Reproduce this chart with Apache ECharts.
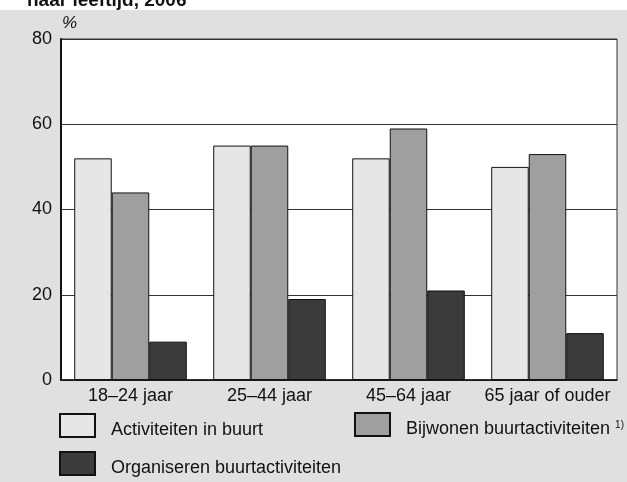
<!DOCTYPE html>
<html>
<head>
<meta charset="utf-8">
<script src="https://cdn.jsdelivr.net/npm/echarts@6/dist/echarts.min.js"></script>
<style>
  html, body { margin: 0; padding: 0; background: #fff; }
  #chart { width: 627px; height: 482px; }
</style>
</head>
<body>
<div id="chart"></div>
<script>
// leeftijdsgroepen
var categories = ['18–24 jaar', '25–44 jaar', '45–64 jaar', '65 jaar of ouder']
var activiteitenInBuurt = [52, 55, 52, 50]
var bijwonen = [44, 55, 59, 53]
var organiseren = [9, 19, 21, 11]
var yTicks = [0, 20, 40, 60, 80]

var FONT = '"Liberation Sans", Arial, sans-serif'
var chart = echarts.init(document.getElementById('chart'))

function legendBox(name, left, top, extra) {
    return {
        data: [name],
        left: left,
        top: top,
        itemWidth: 35,
        itemHeight: 23,
        padding: 0,
        selectedMode: false,
        icon: 'rect',
        formatter: extra ? '{a|{name}}{sup|1)}' : '{a|{name}}',
        textStyle: {
            fontFamily: FONT,
            fontSize: 18,
            color: '#111',
            rich: {
                a: { fontFamily: FONT, fontSize: 18, color: '#111', padding: [10, 0, 0, 11] },
                sup: { fontFamily: FONT, fontSize: 10, color: '#111', padding: [0, 0, 8, 5], verticalAlign: 'bottom' }
            }
        }
    }
}

var option = {
    backgroundColor: '#e0e0e0',
    animation: false,
    title: {
        text: 'naar leeftijd, 2006',
        left: 27,
        top: -9,
        padding: 0,
        textStyle: { fontFamily: FONT, fontSize: 19, fontWeight: 'bold', color: '#111' }
    },
    graphic: [{
        type: 'rect',
        left: 0, top: 0, z: -10,
        shape: { width: 627, height: 10 },
        style: { fill: '#fff' }
    }],
    grid: {
        left: 61, right: 10, top: 39, bottom: 102,
        show: true,
        backgroundColor: '#fff',
        borderColor: '#333',
        borderWidth: 1
    },
    legend: [
        legendBox('Activiteiten in buurt', 59, 413, false),
        legendBox('Bijwonen buurtactiviteiten', 354, 412, true),
        legendBox('Organiseren buurtactiviteiten', 59, 451, false)
    ],
    xAxis: {
        type: 'category',
        data: categories,
        axisLine: { lineStyle: { color: '#111', width: 1.5 } },
        axisTick: { show: false },
        axisLabel: { interval: 0, fontFamily: FONT, fontSize: 18, color: '#111', margin: 7 }
    },
    yAxis: {
        type: 'value',
        min: yTicks[0],
        max: yTicks[yTicks.length - 1],
        interval: 20,
        name: '%',
        nameGap: 7,
        nameTextStyle: { fontFamily: FONT, fontSize: 17, fontStyle: 'italic', color: '#111', padding: [0, 0, 0, 17] },
        axisLine: { show: true, lineStyle: { color: '#111', width: 2 } },
        axisTick: { show: false },
        axisLabel: { fontFamily: FONT, fontSize: 18, color: '#111', margin: 9 },
        splitLine: { lineStyle: { color: '#333', width: 1 } }
    },
    series: [
        {
            name: 'Activiteiten in buurt', type: 'bar', data: activiteitenInBuurt,
            barGap: '0%', barCategoryGap: '19%',
            itemStyle: { color: '#e6e6e6', borderColor: '#111', borderWidth: 1 }
        },
        {
            name: 'Bijwonen buurtactiviteiten', type: 'bar', data: bijwonen,
            itemStyle: { color: '#9f9f9f', borderColor: '#111', borderWidth: 1 }
        },
        {
            name: 'Organiseren buurtactiviteiten', type: 'bar', data: organiseren,
            itemStyle: { color: '#3b3b3b', borderColor: '#111', borderWidth: 1 }
        }
    ]
}
chart.setOption(option)
</script>
</body>
</html>
